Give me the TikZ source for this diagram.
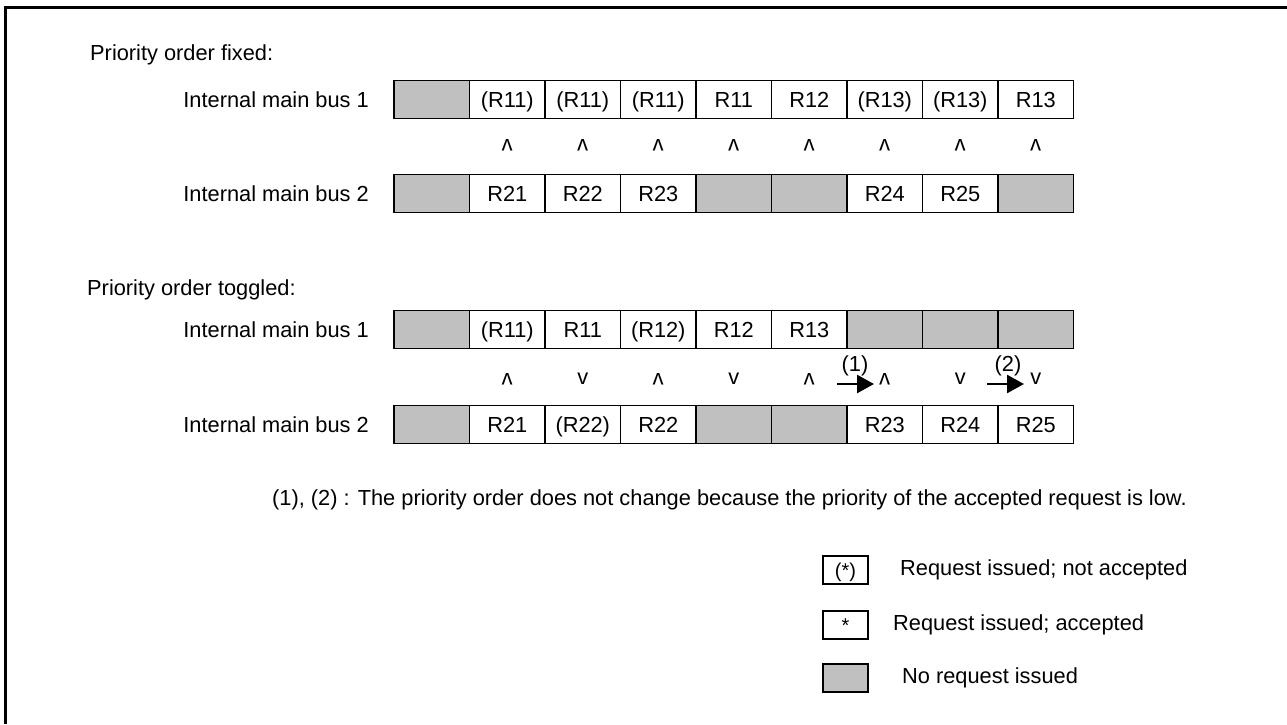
\documentclass[tikz,border=0pt]{standalone}
\usepackage{fontspec}
\setmainfont{Liberation Sans}
\usetikzlibrary{arrows.meta}
\definecolor{nogray}{RGB}{192,192,192}
\begin{document}
\begin{tikzpicture}[x=1pt,y=-1pt,
  every node/.style={font=\fontsize{21.8}{26}\selectfont, inner sep=0pt},
  cell/.style={draw=black, line width=1.3pt, minimum width=75.5pt, minimum height=38pt, anchor=center, fill=white, text height=15.6pt, text depth=0pt},
  nocell/.style={cell, fill=nogray},
  lbl/.style={anchor=east},
  heading/.style={anchor=west},
  upmark/.style={rotate=180},
  downmark/.style={},
  prio/.style={-{Triangle[length=17pt,width=18pt]}, line width=2.5pt},
  legbox/.style={draw=black, line width=1.3pt, minimum width=45pt, minimum height=28pt, font=\fontsize{20}{24}\selectfont, text height=14pt, text depth=0pt},
  legtext/.style={anchor=west}
]
\useasboundingbox (0,0) rectangle (1287,724);
% frame
\draw[line width=3pt] (1287,7.3) -- (5.3,7.3) -- (5.3,724);

% ---------- Priority order fixed ----------
\node[heading] (h1) at (90,55) {Priority order fixed:};
\node[lbl] (lf1) at (369,99.5) {Internal main bus 1};
\node[lbl] (lf2) at (369,193.5) {Internal main bus 2};
\foreach \s/\t [count=\i from 0] in {nocell/{},cell/(R11),cell/(R11),cell/(R11),cell/R11,cell/R12,cell/(R13),cell/(R13),cell/R13}
  \node[\s] (fa\i) at (431.75+75.5*\i,99.5) {\t};
\foreach \s/\t [count=\i from 0] in {nocell/{},cell/R21,cell/R22,cell/R23,nocell/{},nocell/{},cell/R24,cell/R25,nocell/{}}
  \node[\s] (fb\i) at (431.75+75.5*\i,193.5) {\t};
\foreach \i in {1,...,8}
  \node[upmark] (fm\i) at (431.75+75.5*\i,145) {v};

% ---------- Priority order toggled ----------
\node[heading] (h2) at (87,290) {Priority order toggled:};
\node[lbl] (lt1) at (369,329.5) {Internal main bus 1};
\node[lbl] (lt2) at (369,424.5) {Internal main bus 2};
\foreach \s/\t [count=\i from 0] in {nocell/{},cell/(R11),cell/R11,cell/(R12),cell/R12,cell/R13,nocell/{},nocell/{},nocell/{}}
  \node[\s] (ta\i) at (431.75+75.5*\i,329.5) {\t};
\foreach \s/\t [count=\i from 0] in {nocell/{},cell/R21,cell/(R22),cell/R22,nocell/{},nocell/{},cell/R23,cell/R24,cell/R25}
  \node[\s] (tb\i) at (431.75+75.5*\i,424.5) {\t};
\foreach \s [count=\i] in {upmark,downmark,upmark,downmark,upmark,upmark,downmark,downmark}
  \node[\s] (tm\i) at (431.75+75.5*\i,379) {v};

% toggle-not-changed arrows
\coordinate (a1s) at (837,384);
\coordinate (a1e) at (874,384);
\draw[prio] (a1s) -- (a1e);
\node (n1) at (855,366) {(1)};
\coordinate (a2s) at (987,384);
\coordinate (a2e) at (1024,384);
\draw[prio] (a2s) -- (a2e);
\node (n2) at (1008,366) {(2)};

% footnote
\node[anchor=west] (fn) at (272,500) {(1), (2) : The priority order does not change because the priority of the accepted request is low.};

% legend
\node[legbox] (lg1) at (845.5,570) {(*)};
\node[legbox] (lg2) at (845.5,625) {*};
\node[legbox, fill=nogray] (lg3) at (845.5,678) {};
\node[legtext] (lgt1) at (900,570) {Request issued; not accepted};
\node[legtext] (lgt2) at (893,625) {Request issued; accepted};
\node[legtext] (lgt3) at (902,678) {No request issued};
\end{tikzpicture}
\end{document}
